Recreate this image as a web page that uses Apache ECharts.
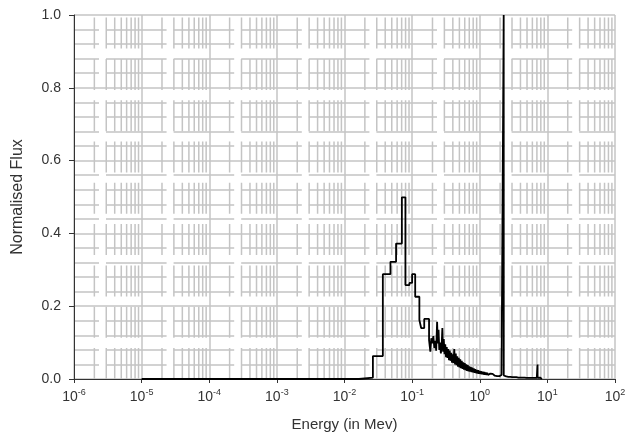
<!DOCTYPE html>
<html>
<head>
<meta charset="utf-8">
<script src="https://cdn.jsdelivr.net/npm/echarts@6/dist/echarts.min.js"></script>
<style>html,body{margin:0;padding:0;background:#fff}#c{width:629px;height:440px}</style>
</head>
<body>
<div id="c"></div>
<script>
// Energy (MeV) – lower bin edges; flux holds until the next edge
const energy = [
  1e-5, 0.0164, 0.0263, 0.0369, 0.0478, 0.0579, 0.0705, 0.0796, 0.0912, 0.100, 0.111, 0.128, 0.136, 0.151,
  0.178, 0.186, 0.192, 0.199, 0.206, 0.213, 0.220, 0.227, 0.234, 0.240, 0.246, 0.252, 0.259, 0.266,
  0.273, 0.280, 0.287, 0.294, 0.301, 0.309, 0.317, 0.325, 0.333, 0.342, 0.351, 0.360, 0.369, 0.379,
  0.389, 0.399, 0.409, 0.420, 0.431, 0.442, 0.453, 0.465, 0.477, 0.489, 0.502, 0.515, 0.528, 0.542,
  0.556, 0.570, 0.585, 0.600, 0.616, 0.632, 0.648, 0.665, 0.682, 0.700, 0.718, 0.737, 0.756, 0.775,
  0.795, 0.816, 0.837, 0.859, 0.881, 0.904, 0.927, 0.951, 0.976, 1.00, 1.03, 1.05, 1.08, 1.11,
  1.14, 1.17, 1.20, 1.23, 1.26, 1.29, 1.33, 1.36, 1.40, 1.43, 1.47, 1.51, 1.55, 1.59, 1.63, 1.67,
  1.71, 1.76, 1.80, 1.85, 1.90, 1.95, 2.00, 2.05, 2.10, 2.16, 2.21, 2.26, 2.265, 2.38, 2.46, 2.55,
  2.64, 2.73, 2.83, 2.93, 3.03, 3.14, 3.25, 3.36, 3.48, 3.60, 3.73, 3.86, 4.00, 4.14, 4.29, 4.44,
  4.60, 4.76, 4.93, 5.10, 5.28, 5.47, 5.66, 5.86, 6.07, 6.28, 6.50, 6.73, 6.97, 7.16, 7.17, 7.50,
  7.77, 8.04, 8.30
];
const flux = [
  0, 0.004, 0.063, 0.288, 0.322, 0.372, 0.499, 0.258, 0.264, 0.288, 0.226, 0.162, 0.140, 0.165,
  0.107, 0.075, 0.112, 0.098, 0.118, 0.085, 0.105, 0.078, 0.157, 0.098, 0.135, 0.080, 0.100, 0.070,
  0.090, 0.140, 0.075, 0.110, 0.068, 0.095, 0.060, 0.088, 0.058, 0.082, 0.052, 0.078, 0.050, 0.072,
  0.045, 0.068, 0.044, 0.082, 0.040, 0.070, 0.038, 0.062, 0.034, 0.058, 0.032, 0.054, 0.030, 0.050,
  0.028, 0.046, 0.026, 0.044, 0.024, 0.040, 0.022, 0.038, 0.021, 0.035, 0.020, 0.033, 0.019, 0.031,
  0.018, 0.029, 0.017, 0.027, 0.016, 0.025, 0.015, 0.024, 0.014, 0.022, 0.014, 0.021, 0.013, 0.020,
  0.012, 0.019, 0.012, 0.018, 0.011, 0.017, 0.011, 0.016, 0.010, 0.015, 0.010, 0.014, 0.009, 0.014, 0.009, 0.013,
  0.008, 0.012, 0.008, 0.012, 0.008, 0.011, 0.007, 0.011, 0.007, 0.010, 0.007, 1.0, 0.010, 0.007, 0.010, 0.006,
  0.009, 0.006, 0.008, 0.005, 0.008, 0.005, 0.007, 0.005, 0.007, 0.004, 0.006, 0.004, 0.006, 0.004, 0.005, 0.004,
  0.005, 0.003, 0.005, 0.003, 0.004, 0.003, 0.004, 0.003, 0.004, 0.003, 0.004, 0.003, 0.004, 0.040, 0.003, 0.004,
  0.003, 0.003, 0
];
const yTicks = ['0.0', '0.2', '0.4', '0.6', '0.8', '1.0'];
const xTickExponents = [-6, -5, -4, -3, -2, -1, 0, 1, 2];

const points = energy.map((e, i) => [e, flux[i]]);

// minor vertical grid positions (2..9 x 10^k) – gridlines, not data
const minorX = [];
for (let k = xTickExponents[0]; k < xTickExponents[xTickExponents.length - 1]; k++) {
  for (let m = 2; m <= 9; m++) minorX.push([m * Math.pow(10, k), 0]);
}

const gridColor = '#c4c4c4';
const font = 'Liberation Sans';
const chart = echarts.init(document.getElementById('c'), null, { renderer: 'canvas' });
chart.setOption({
  animation: false,
  backgroundColor: '#ffffff',
  grid: { left: 74, right: 14, top: 15, bottom: 61, containLabel: false },
  xAxis: {
    type: 'log',
    logBase: 10,
    min: Math.pow(10, xTickExponents[0]),
    max: Math.pow(10, xTickExponents[xTickExponents.length - 1]),
    splitNumber: 8,
    name: 'Energy (in Mev)',
    nameLocation: 'middle',
    nameGap: 38,
    nameTextStyle: { fontFamily: font, fontSize: 15, color: '#333' },
    axisLine: { show: true, lineStyle: { color: '#333', width: 1 } },
    axisTick: { show: true, inside: false, length: 4, lineStyle: { color: '#333' } },
    axisLabel: {
      margin: 9,
      fontFamily: font,
      color: '#333',
      formatter: function (v) {
        const e = Math.round(Math.log10(v));
        return '{b|10}{s|' + e + '}';
      },
      rich: {
        b: { fontSize: 14, lineHeight: 18, fontFamily: font, color: '#333' },
        s: { fontSize: 9, verticalAlign: 'top', fontFamily: font, color: '#333' }
      }
    },
    splitLine: { show: true, lineStyle: { color: gridColor, width: 1.5 } },
    minorTick: { show: false },
    minorSplitLine: { show: false }
  },
  yAxis: {
    type: 'value',
    min: 0,
    max: 1,
    interval: 0.2,
    name: 'Normalised Flux',
    nameLocation: 'middle',
    nameGap: 48,
    nameTextStyle: { fontFamily: font, fontSize: 16, color: '#333' },
    axisLine: { show: true, lineStyle: { color: '#333', width: 1 } },
    axisTick: { show: true, inside: false, length: 5, lineStyle: { color: '#333' } },
    axisLabel: {
      margin: 13,
      fontFamily: font,
      fontSize: 14,
      color: '#333',
      formatter: function (v) { return yTicks[Math.round(v / 0.2)]; }
    },
    splitLine: { show: true, lineStyle: { color: gridColor, width: 1.5 } },
    minorTick: { show: false, splitNumber: 5 },
    minorSplitLine: { show: true, lineStyle: { color: gridColor, width: 1.5, type: [60.6, 7], dashOffset: 35.6 } }
  },
  series: [
    {
      type: 'custom',
      silent: true,
      z: 1,
      clip: true,
      data: minorX,
      encode: { x: 0, y: 1 },
      renderItem: function (params, api) {
        const cs = params.coordSys;
        const x = api.coord([api.value(0), 0])[0];
        return {
          type: 'line',
          shape: { x1: x, y1: cs.y + cs.height, x2: x, y2: cs.y },
          style: { stroke: gridColor, lineWidth: 1.5, lineDash: [31, 10.3], fill: null }
        };
      }
    },
    {
      type: 'line',
      step: 'end',
      data: points,
      showSymbol: false,
      symbol: 'none',
      z: 10,
      silent: true,
      lineStyle: { color: '#000', width: 1.8 }
    }
  ]
});
</script>
</body>
</html>
